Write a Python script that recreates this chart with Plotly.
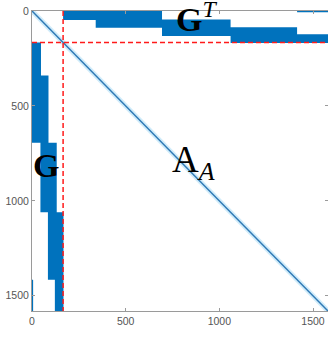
import plotly.graph_objects as go

# Matrix size and size of the constraint block
N = 1580
m = 166

# Staircase blocks of G (rows m..N, first m columns); G^T is the mirror image
block_row_start = [166, 340, 694, 1060, 1415, 1415]
block_row_end = [340, 694, 1060, 1415, 1580, 1580]
block_col_lo = [0, 0, 45, 85, 122, 0]
block_col_hi = [48, 88, 132, 168, 168, 6]

x_ticks = [0, 500, 1000, 1500]
y_ticks = [0, 500, 1000, 1500]

BLUE = "#0072BD"


def rect_path(x0, x1, y0, y1):
    return [x0, x1, x1, x0, x0, None], [y0, y0, y1, y1, y0, None]


gx, gy, tx, ty = [], [], [], []
for r0, r1, c0, c1 in zip(block_row_start, block_row_end, block_col_lo, block_col_hi):
    px, py = rect_path(c0, c1, r0, r1)
    gx += px
    gy += py
    # transposed block
    tx += py
    ty += px

fig = go.Figure()

# G (lower-left strip)
fig.add_trace(go.Scatter(x=gx, y=gy, mode="lines", fill="toself",
                         fillcolor=BLUE, line=dict(width=0, color=BLUE),
                         hoverinfo="skip", showlegend=False))
# G^T (upper strip)
fig.add_trace(go.Scatter(x=tx, y=ty, mode="lines", fill="toself",
                         fillcolor=BLUE, line=dict(width=0, color=BLUE),
                         hoverinfo="skip", showlegend=False))

# diagonal of A_A
fig.add_trace(go.Scatter(x=[0, N], y=[0, N], mode="lines",
                         line=dict(color="rgba(120,200,240,0.35)", width=5),
                         hoverinfo="skip", showlegend=False))
fig.add_trace(go.Scatter(x=[0, N], y=[0, N], mode="lines",
                         line=dict(color="#2f79b5", width=1.5),
                         hoverinfo="skip", showlegend=False))

# partition lines
dash = dict(color="#ff1a1a", width=1.5, dash="5px,3px")
fig.add_trace(go.Scatter(x=[m, m], y=[0, N], mode="lines", line=dash,
                         hoverinfo="skip", showlegend=False))
fig.add_trace(go.Scatter(x=[0, N], y=[m, m], mode="lines", line=dash,
                         hoverinfo="skip", showlegend=False))

serif = "Liberation Serif, Times New Roman, serif"
fig.add_annotation(x=758, y=30, xref="x", yref="y", xanchor="left", yanchor="middle",
                   text="<b>G</b><sup><i>T</i></sup>", showarrow=False,
                   font=dict(family=serif, size=34, color="black"))
fig.add_annotation(x=75, y=816, xref="x", yref="y", xanchor="center", yanchor="middle",
                   text="<b>G</b>", showarrow=False,
                   font=dict(family=serif, size=34, color="black"))
fig.add_annotation(x=738, y=800, xref="x", yref="y", xanchor="left", yanchor="middle",
                   text="A<sub><i>A</i></sub>", showarrow=False,
                   font=dict(family=serif, size=37, color="black"))

axis_common = dict(
    showgrid=False, zeroline=False, showline=True, mirror="ticks",
    linecolor="#9a9a9a", linewidth=1, ticks="inside", ticklen=3,
    tickcolor="#9a9a9a", tickfont=dict(family="Liberation Sans, Arial, sans-serif",
                                       size=10.5, color="#555555"),
)
fig.update_xaxes(range=[0, N], tickvals=x_ticks, ticktext=[str(v) for v in x_ticks],
                 **axis_common)
fig.update_yaxes(range=[N, 0], tickvals=y_ticks, ticktext=[str(v) for v in y_ticks],
                 **axis_common)

fig.update_layout(width=328, height=340, margin=dict(l=32, r=0, t=11, b=29),
                  paper_bgcolor="white", plot_bgcolor="white")

fig.write_html("out.html")
